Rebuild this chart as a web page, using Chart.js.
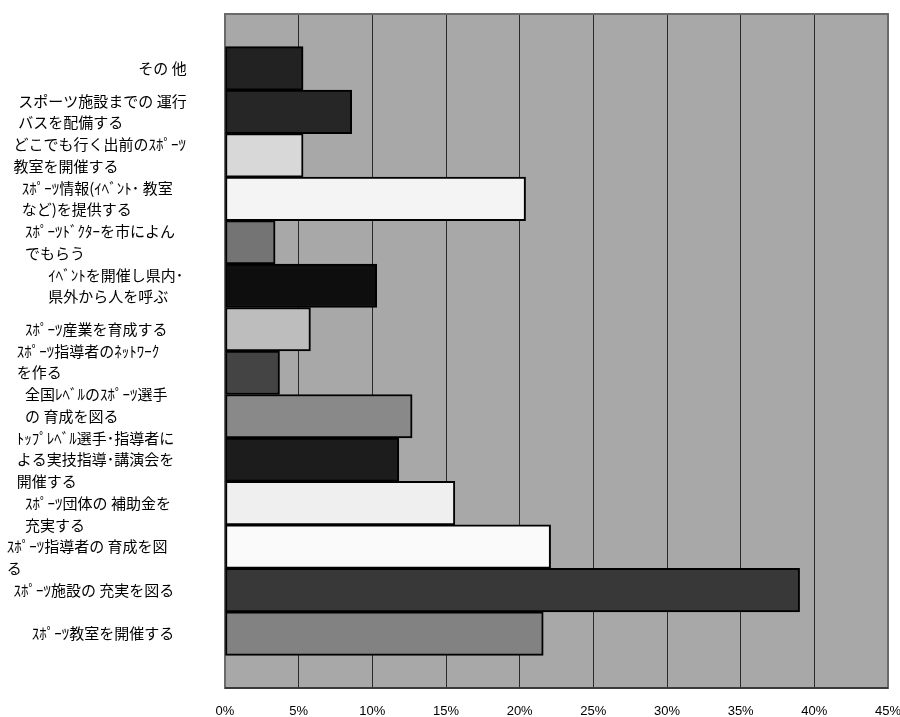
<!DOCTYPE html>
<html>
<head>
<meta charset="utf-8">
<script src="https://cdn.jsdelivr.net/npm/chart.js@4/dist/chart.umd.min.js"></script>
<style>
  html, body { margin: 0; padding: 0; background: #ffffff; }
  #c { display: block; }
</style>
</head>
<body>
<canvas id="c" width="900" height="717"></canvas>
<script>
// Full-width space used for indenting the wrapped category labels
const W = '\u3000';

// Category labels (top to bottom), wrapped into lines
const categories = [
  W.repeat(9) + ' その 他',
  [W + ' スポーツ施設までの 運行', W + ' バスを配備する'],
  ['    どこでも行く出前のｽﾎﾟｰﾂ', '    教室を開催する'],
  [W + '  ｽﾎﾟｰﾂ情報(ｲﾍﾞﾝﾄ･ 教室', W + '  など)を提供する'],
  [W + '   ｽﾎﾟｰﾂﾄﾞｸﾀｰを市によん', W + '   でもらう'],
  [W.repeat(3) + ' ｲﾍﾞﾝﾄを開催し県内･', W.repeat(3) + ' 県外から人を呼ぶ'],
  W + '   ｽﾎﾟｰﾂ産業を育成する',
  ['     ｽﾎﾟｰﾂ指導者のﾈｯﾄﾜｰｸ', '     を作る', ''],
  [W + '   全国ﾚﾍﾞﾙのｽﾎﾟｰﾂ選手', W + '   の 育成を図る', ''],
  ['     ﾄｯﾌﾟﾚﾍﾞﾙ選手･指導者に', '     よる実技指導･講演会を', '     開催する'],
  ['', W + '   ｽﾎﾟｰﾂ団体の 補助金を', W + '   充実する'],
  ['', '  ｽﾎﾟｰﾂ指導者の 育成を図', '  る'],
  '    ｽﾎﾟｰﾂ施設の 充実を図る',
  W + '     ｽﾎﾟｰﾂ教室を開催する'
];

// Share of respondents (%) for each category
const shares = [5.3, 8.6, 5.3, 20.4, 3.4, 10.3, 5.8, 3.7, 12.7, 11.8, 15.6, 22.1, 39.0, 21.6];

// Percent axis tick values
const percentTicks = [0, 5, 10, 15, 20, 25, 30, 35, 40, 45];

// Gray fill for each bar
const barFills = ['#222222', '#262626', '#d8d8d8', '#f4f4f4', '#747474', '#0e0e0e', '#bdbdbd',
                  '#444444', '#898989', '#1c1c1c', '#efefef', '#fafafa', '#383838', '#828282'];

// Category axis range: empty space above the first and below the last bar
const Y_MIN = -1.25;
const Y_MAX = 14.25;

// Gray plot background and frame around the plot area
const plotFrame = {
  id: 'plotFrame',
  beforeDraw(chart) {
    const { ctx, chartArea: a } = chart;
    ctx.save();
    ctx.fillStyle = '#a8a8a8';
    ctx.fillRect(a.left, a.top, a.right - a.left, a.bottom - a.top);
    ctx.restore();
  },
  beforeDatasetsDraw(chart) {
    const { ctx, chartArea: a } = chart;
    ctx.save();
    ctx.strokeStyle = '#6a6a6a';
    ctx.lineWidth = 2;
    ctx.strokeRect(a.left, a.top, a.right - a.left, a.bottom - a.top);
    ctx.strokeStyle = '#3a3a3a';
    ctx.beginPath();
    ctx.moveTo(a.left, a.bottom);
    ctx.lineTo(a.right, a.bottom);
    ctx.stroke();
    ctx.restore();
  }
};

new Chart(document.getElementById('c'), {
  type: 'bar',
  data: {
    datasets: [{
      data: shares.map((v, i) => ({ x: v, y: i })),
      backgroundColor: barFills,
      borderColor: '#000000',
      borderWidth: 2,
      borderSkipped: false,
      barPercentage: 1,
      categoryPercentage: 1
    }]
  },
  options: {
    indexAxis: 'y',
    responsive: false,
    animation: false,
    devicePixelRatio: 1,
    layout: { padding: { top: 14, right: 12, bottom: 0, left: 0 } },
    plugins: { legend: { display: false }, tooltip: { enabled: false } },
    scales: {
      x: {
        type: 'linear',
        position: 'bottom',
        min: 0,
        max: 45,
        afterBuildTicks(scale) { scale.ticks = percentTicks.map(v => ({ value: v })); },
        afterFit(scale) {
          scale.height = 29;
          scale.paddingLeft = 0;
          scale.paddingRight = 0;
        },
        grid: { color: '#2a2a2a', lineWidth: 1, drawTicks: false },
        border: { display: false },
        ticks: {
          padding: 16,
          color: '#000000',
          font: { family: 'Liberation Sans', size: 13 },
          callback: v => v + '%'
        }
      },
      y: {
        type: 'linear',
        reverse: true,
        offset: false,
        bounds: 'data',
        min: Y_MIN,
        max: Y_MAX,
        afterBuildTicks(scale) {
          scale.ticks = categories.map((_, i) => ({ value: i }));
          scale.min = Y_MIN;
          scale.max = Y_MAX;
        },
        afterFit(scale) {
          scale.width = 225;
          scale.paddingTop = 0;
          scale.paddingBottom = 0;
        },
        grid: { display: false, drawTicks: false, offset: false },
        border: { display: false },
        ticks: {
          autoSkip: false,
          crossAlign: 'far',
          color: '#000000',
          font: { family: '"Noto Sans CJK JP", sans-serif', size: 15, lineHeight: 1.45 },
          callback: v => categories[v]
        }
      }
    }
  },
  plugins: [plotFrame]
});
</script>
</body>
</html>
